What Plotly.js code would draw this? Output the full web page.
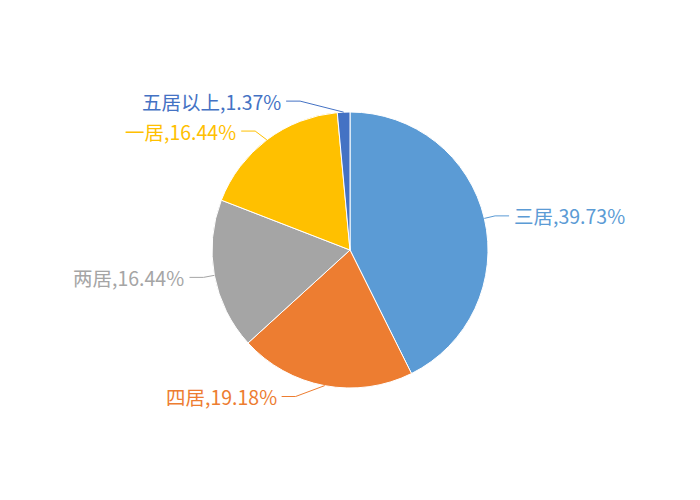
<!DOCTYPE html>
<html>
<head>
<meta charset="utf-8">
<script src="https://cdn.plot.ly/plotly-3.0.1.min.js"></script>
<style>html,body{margin:0;padding:0;background:#fff;}</style>
</head>
<body>
<div id="chart" style="width:700px;height:500px;"></div>
<script>
// Data (counts; shares as shown on the chart)
var categories = ["三居", "四居", "两居", "一居", "五居以上"];
var counts = [29, 14, 12, 12, 1];
var shares = ["39.73%", "19.18%", "16.44%", "16.44%", "1.37%"];

var colors = ["#5B9BD5", "#ED7D31", "#A5A5A5", "#FFC000", "#4472C4"];
var W = 700, H = 500;
var cx = 350, cy = 250, R = 138;
var fontFamily = '"Noto Sans CJK SC", "Microsoft YaHei", sans-serif';

// Extra horizontal shift of the elbow to avoid crowding (px)
var elbowShift = [0, -27, 0, -5, -43];

var total = counts.reduce(function (a, b) { return a + b; }, 0);
var annotations = [], shapes = [];
var cum = 0;
var px = function (x) { return x / W; }, py = function (y) { return 1 - y / H; };
for (var i = 0; i < counts.length; i++) {
  var mid = (cum + counts[i] / 2) / total * 2 * Math.PI; // clockwise from top
  cum += counts[i];
  var sx = Math.sin(mid), sy = -Math.cos(mid);
  var ex = cx + R * sx, ey = cy + R * sy;
  var bx = cx + R * 1.08 * sx + elbowShift[i], by = cy + R * 1.08 * sy;
  var right = sx >= 0;
  var hx = bx + (right ? 14 : -14);
  var tx = hx + (right ? 3 : -3);
  shapes.push({
    type: "path", xref: "paper", yref: "paper",
    path: "M " + px(ex) + "," + py(ey) + " L " + px(bx) + "," + py(by) + " L " + px(hx) + "," + py(by),
    line: { color: colors[i], width: 1 }
  });
  annotations.push({
    xref: "paper", yref: "paper", x: px(tx), y: py(by),
    xanchor: right ? "left" : "right", yanchor: "middle",
    text: categories[i] + "," + shares[i], showarrow: false,
    font: { family: fontFamily, size: 19.5, color: colors[i] }
  });
}

var trace = {
  type: "pie",
  labels: categories,
  values: counts,
  sort: false,
  direction: "clockwise",
  rotation: 0,
  textinfo: "none",
  hoverinfo: "label+percent",
  marker: { colors: colors, line: { color: "#ffffff", width: 1 } },
  domain: { x: [(cx - R) / W, (cx + R) / W], y: [1 - (cy + R) / H, 1 - (cy - R) / H] }
};

var layout = {
  width: W, height: H,
  margin: { l: 0, r: 0, t: 0, b: 0 },
  showlegend: false,
  paper_bgcolor: "#ffffff",
  annotations: annotations,
  shapes: shapes,
  font: { family: fontFamily }
};

Plotly.newPlot("chart", [trace], layout, { displayModeBar: false, staticPlot: true });
</script>
</body>
</html>
